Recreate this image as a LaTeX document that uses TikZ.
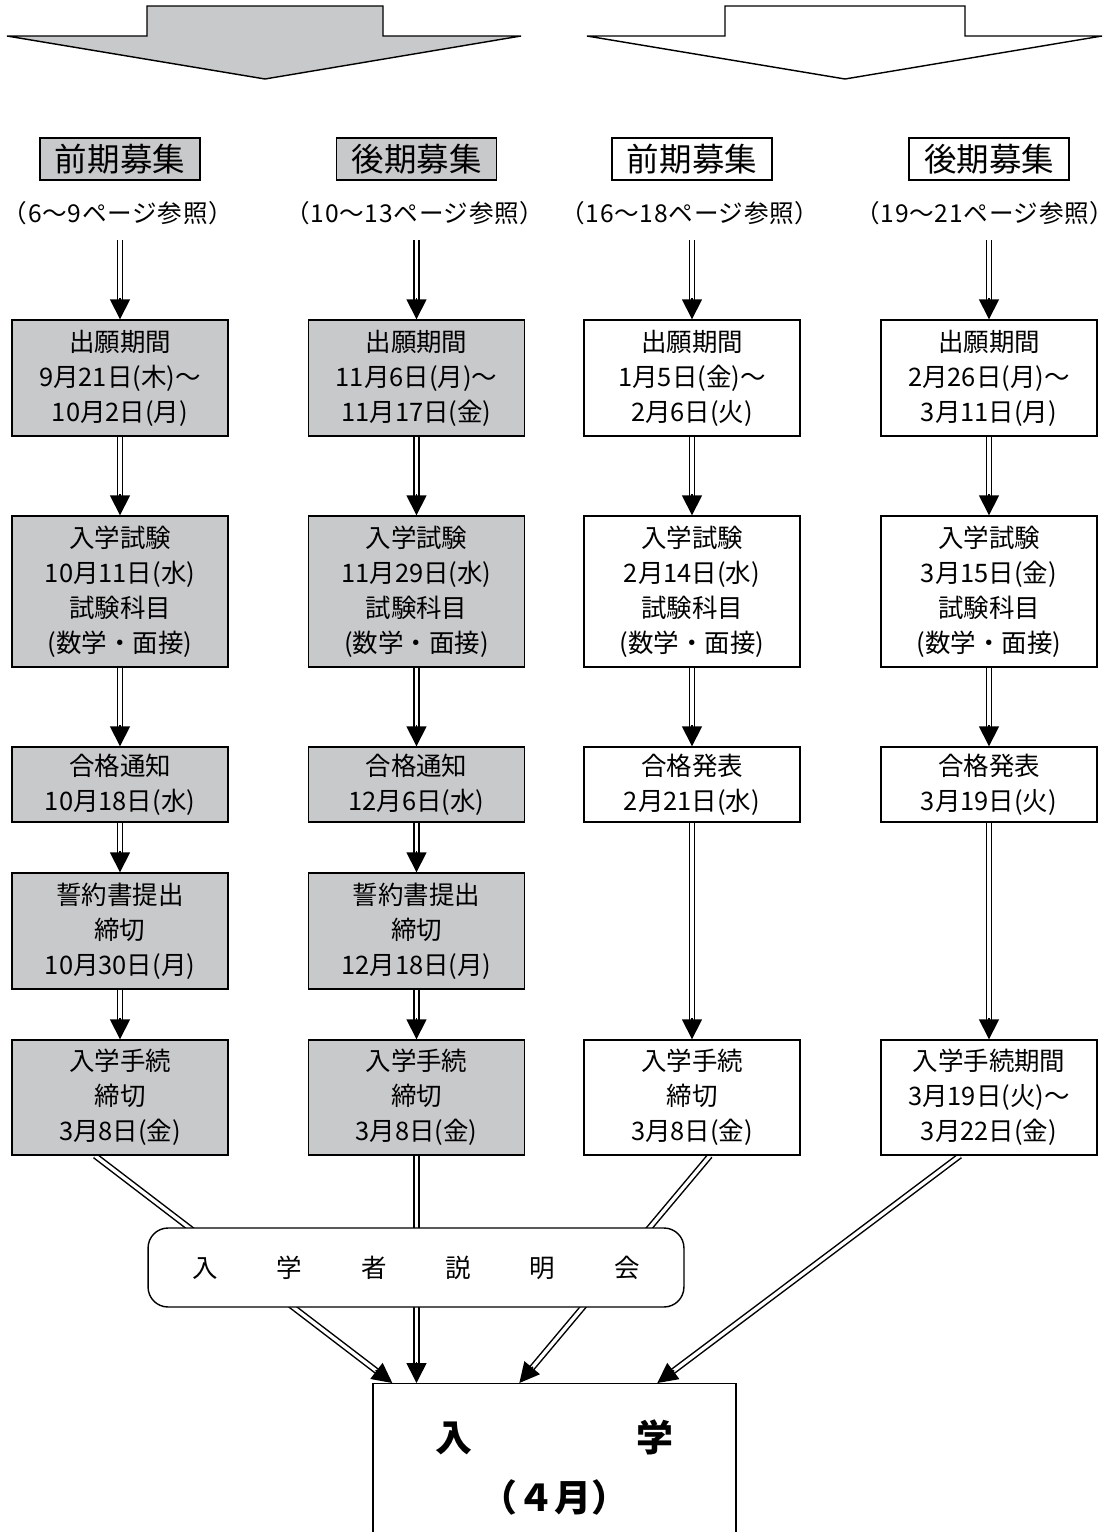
\documentclass[tikz,border=0pt]{standalone}
\usepackage{fontspec}
\setmainfont{Noto Sans CJK JP}
\usetikzlibrary{arrows.meta,calc,backgrounds}
\definecolor{boxgray}{RGB}{200,201,202}

\tikzset{
  graybox/.style={draw, line width=0.8pt, fill=boxgray, minimum width=4.32cm, align=center,
    inner sep=0pt, font=\fontsize{14.5}{20}\selectfont},
  whitebox/.style={graybox, fill=white},
  head/.style={draw, line width=0.8pt, minimum width=3.2cm, minimum height=0.84cm,
    font=\fontsize{18.5}{22}\selectfont},
  ref/.style={minimum height=1.08cm, inner sep=0pt,
    font=\fontsize{14}{16}\selectfont\addfontfeature{LetterSpace=3}},
  dbl/.style={double, double distance=1.9pt, line width=0.85pt},
  tip/.style={line width=0.85pt, -{Triangle[length=0.4cm,width=0.4cm]}},
}
% double line with a solid head
\newcommand{\darr}[2]{%
  \draw[dbl] (#1) -- ($(#2)!0.3cm!(#1)$);
  \draw[tip] ($(#2)!0.42cm!(#1)$) -- (#2);}
\newcommand{\wsp}{\hspace{1.18cm}}

\begin{document}
\begin{tikzpicture}[x=0.02cm,y=-0.02cm]
\path[use as bounding box, clip] (0,0) rectangle (1115,1532);

% big arrows on top
\draw[line width=0.8pt, fill=boxgray] (7,36) -- (147,36) -- (147,6) -- (383,6) -- (383,36)
  -- (521,36) -- (265,79) -- cycle;
\draw[line width=0.8pt, fill=white] (587,36) -- (725,36) -- (725,6) -- (965,6) -- (965,36)
  -- (1102,36) -- (845,79) -- cycle;

% headers
\node[head, fill=boxgray] (hd1) at (120,159) {前期募集};
\node[head, fill=boxgray] (hd2) at (416.5,159) {後期募集};
\node[head] (hd3) at (692,159) {前期募集};
\node[head] (hd4) at (989,159) {後期募集};

\node[ref] (sb1) at (118,213) {（6～9ページ参照）};
\node[ref] (sb2) at (415,213) {（10～13ページ参照）};
\node[ref] (sb3) at (690,213) {（16～18ページ参照）};
\node[ref] (sb4) at (985,213) {（19～21ページ参照）};

% application period
\node[graybox, minimum height=2.32cm] (ap1) at (120,378) {出願期間\\9月21日(木)～\\10月2日(月)};
\node[graybox, minimum height=2.32cm] (ap2) at (416.5,378) {出願期間\\11月6日(月)～\\11月17日(金)};
\node[whitebox, minimum height=2.32cm] (ap3) at (692,378) {出願期間\\1月5日(金)～\\2月6日(火)};
\node[whitebox, minimum height=2.32cm] (ap4) at (989,378) {出願期間\\2月26日(月)～\\3月11日(月)};

% exam
\node[graybox, minimum height=3.02cm] (ex1) at (120,591.5) {入学試験\\10月11日(水)\\試験科目\\(数学・面接)};
\node[graybox, minimum height=3.02cm] (ex2) at (416.5,591.5) {入学試験\\11月29日(水)\\試験科目\\(数学・面接)};
\node[whitebox, minimum height=3.02cm] (ex3) at (692,591.5) {入学試験\\2月14日(水)\\試験科目\\(数学・面接)};
\node[whitebox, minimum height=3.02cm] (ex4) at (989,591.5) {入学試験\\3月15日(金)\\試験科目\\(数学・面接)};

% results
\node[graybox, minimum height=1.5cm] (ps1) at (120,784.5) {合格通知\\10月18日(水)};
\node[graybox, minimum height=1.5cm] (ps2) at (416.5,784.5) {合格通知\\12月6日(水)};
\node[whitebox, minimum height=1.5cm] (ps3) at (692,784.5) {合格発表\\2月21日(水)};
\node[whitebox, minimum height=1.5cm] (ps4) at (989,784.5) {合格発表\\3月19日(火)};

% pledge
\node[graybox, minimum height=2.32cm] (pl1) at (120,931) {誓約書提出\\締切\\10月30日(月)};
\node[graybox, minimum height=2.32cm] (pl2) at (416.5,931) {誓約書提出\\締切\\12月18日(月)};

% procedure
\node[graybox, minimum height=2.3cm] (pr1) at (120,1097.5) {入学手続\\締切\\3月8日(金)};
\node[graybox, minimum height=2.3cm] (pr2) at (416.5,1097.5) {入学手続\\締切\\3月8日(金)};
\node[whitebox, minimum height=2.3cm] (pr3) at (692,1097.5) {入学手続\\締切\\3月8日(金)};
\node[whitebox, minimum height=2.3cm] (pr4) at (989,1097.5) {入学手続期間\\3月19日(火)～\\3月22日(金)};

\node[draw, line width=0.8pt, fill=white, rounded corners=0.4cm, minimum width=10.72cm,
  minimum height=1.58cm, font=\fontsize{14.5}{17}\selectfont] (brief) at (416,1267.5)
  {入\wsp 学\wsp 者\wsp 説\wsp 明\wsp 会};

\node[draw, line width=0.8pt, anchor=north, minimum width=7.26cm, inner ysep=0.73cm, align=center,
  font=\fontsize{21}{34}\selectfont\bfseries] (entry) at (554.5,1383)
  {入\hspace{3.3cm}学\\（４月）};

\begin{pgfonlayer}{background}
\foreach \c in {1,...,4} {
  \coordinate (t\c) at (sb\c.south -| ap\c.north);
  \darr{t\c}{ap\c.north}
  \darr{ap\c.south}{ex\c.north}
  \darr{ex\c.south}{ps\c.north}
}
\foreach \c in {1,2} {
  \darr{ps\c.south}{pl\c.north}
  \darr{pl\c.south}{pr\c.north}
}
\foreach \c in {3,4} {
  \darr{ps\c.south}{pr\c.north}
}
\coordinate (e1) at ($(pr1.south)+(-25,0)$);
\coordinate (e3) at ($(pr3.south)+(18,0)$);
\coordinate (e4) at ($(pr4.south)+(-29,0)$);
\coordinate (n1) at ($(entry.north west)+(20,0)$);
\coordinate (n2) at (pr2.south |- entry.north);
\coordinate (n3) at ($(entry.north west)+(147,0)$);
\coordinate (n4) at ($(entry.north west)+(285,0)$);
\darr{e1}{n1}
\darr{pr2.south}{n2}
\darr{e3}{n3}
\darr{e4}{n4}
\end{pgfonlayer}
\end{tikzpicture}
\end{document}
